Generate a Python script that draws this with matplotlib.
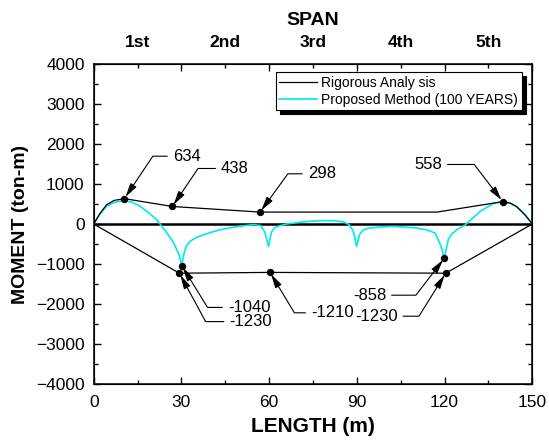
import matplotlib
matplotlib.use("Agg")
import matplotlib.pyplot as plt
import numpy as np

plt.rcParams['font.family'] = ['Liberation Sans', 'DejaVu Sans']

# ---------------- data ----------------
rig_upper_x = [0, 2, 4.4, 7, 10.5, 26.9, 56.9, 117.4, 139.9, 142.5, 144.7, 147.5, 150]
rig_upper_y = [0, 250, 480, 590, 634, 438, 298, 298, 558, 520, 430, 230, 0]

rig_lower_x = [0, 29.3, 60.3, 120.4, 150]
rig_lower_y = [0, -1230, -1210, -1230, 0]

prop_x = [0, 2, 4.4, 7, 10.1, 13, 15.8, 18.5, 21.5, 25, 27, 28.4, 29.3, 30.1,
          30.8, 31.6, 32.9, 35, 37.5, 40, 43.2, 48.9, 54.6, 57.1, 58.5, 59.8,
          60.8, 61.7, 62.6, 66, 71.7, 77.4, 82, 85.4, 87.4, 88.8, 89.9, 91,
          92.2, 93.9, 98, 102.5, 106, 110.5, 114, 116.7, 118.4, 119.3, 119.9,
          120.6, 121.3, 122.5, 124.1, 127, 132.1, 136.7, 140.1, 142.5, 144.7,
          147.5, 150]
prop_y = [0, 230, 445, 540, 580, 550, 445, 300, 112, -220, -430, -640, -800, -1040,
          -760, -560, -435, -340, -270, -210, -145, -65, -15, -40, -200, -560,
          -200, -110, -65, 0, 55, 85, 80, 55, -20, -180, -560, -250,
          -150, -105, -75, -60, -75, -100, -150, -225, -485, -680, -858,
          -620, -380, -250, -150, -25, 310, 515, 560, 520, 430,
          230, 0]

# labelled points
pt_x = [10.5, 26.9, 56.9, 139.9, 30.1, 29.3, 60.3, 119.9, 120.4]
pt_val = [634, 438, 298, 558, -1040, -1230, -1210, -858, -1230]

span_labels = ['1st', '2nd', '3rd', '4th', '5th']
span_centers = [15, 45, 75, 105, 135]
span_bounds = [0, 30, 60, 90, 120, 150]

# ---------------- figure ----------------
fig = plt.figure(figsize=(5.49, 4.42), dpi=100)
ax = fig.add_axes([93.7 / 549, 58 / 442, 438.6 / 549, 320 / 442])

cyan = '#00e8f0'
ax.axhline(0, color='black', lw=1.8, zorder=2)
l2, = ax.plot(prop_x, prop_y, color=cyan, lw=1.2, zorder=3,
              label='Proposed Method (100 YEARS)')
l1, = ax.plot(rig_upper_x, rig_upper_y, color='black', lw=0.9, zorder=4,
              label='Rigorous Analy sis')
ax.plot(rig_lower_x, rig_lower_y, color='black', lw=0.9, zorder=4)
ax.plot(pt_x, pt_val, 'o', color='black', ms=4.3, zorder=6, ls='none')

# annotation layout: (text x, text y, angle of diagonal leader in display)
ann = [
    (31.8, 1695, 56.2),
    (48.3, 1388, 55.9),
    (78.0, 1255, 54.0),
    (114.4, 1488, 127.5),
    (53.2, -2085, -58.3),
    (53.7, -2440, -61.5),
    (81.6, -2220, -58.9),
    (94.3, -1780, 52.4),
    (96.6, -2305, 58.1),
]
for (tx, ty, ang), px, pv in zip(ann, pt_x, pt_val):
    ax.annotate(str(pv), xy=(px, pv), xytext=(tx, ty), ha='center', va='center',
                fontsize=12, zorder=7,
                arrowprops=dict(arrowstyle='-|>,head_length=0.7,head_width=0.18',
                                color='black', lw=0.8, shrinkA=2, shrinkB=1.5,
                                connectionstyle=f'angle,angleA=0,angleB={ang},rad=0'))

ax.set_xlim(0, 150)
ax.set_ylim(-4000, 4000)
ax.set_xticks(span_bounds)
ax.set_xticks(span_centers, minor=True)
ax.set_yticks(np.arange(-4000, 4001, 1000))
ax.set_yticks(np.arange(-4000, 4001, 500), minor=True)
ax.tick_params(which='both', direction='in', right=True, top=False, labelsize=12.5)
ax.tick_params(which='major', length=5, width=1)
ax.tick_params(which='minor', length=3, width=1)
ax.tick_params(axis='x', which='major', pad=8)
ax.tick_params(axis='y', which='major', pad=6.5)
for s in ax.spines.values():
    s.set_linewidth(1.1)

ax.set_xlabel('LENGTH (m)', fontsize=15, fontweight='bold', labelpad=5)
ax.set_ylabel('MOMENT (ton-m)', fontsize=14, fontweight='bold', labelpad=5)

ax2 = ax.twiny()
ax2.set_xlim(0, 150)
ax2.set_xticks(span_bounds, labels=[''] * len(span_bounds))
ax2.set_xticks(span_centers, labels=span_labels, minor=True)
ax2.tick_params(which='both', direction='in')
ax2.tick_params(which='major', length=5, width=1)
ax2.tick_params(which='minor', length=3, width=1, labelsize=12.5, pad=10)
for lbl in ax2.get_xticklabels(minor=True):
    lbl.set_fontweight('bold')
ax2.set_xlabel('SPAN', fontsize=14, fontweight='bold', labelpad=7)

leg = ax.legend(handles=[l1, l2], loc='upper right',
                bbox_to_anchor=((521.7 - 93.7) / 438.6, (384 - 72.3) / 320),
                borderaxespad=0, fontsize=10, fancybox=False, framealpha=1,
                edgecolor='black', handlelength=2.75, handletextpad=0.3,
                borderpad=0.25, labelspacing=0.2,
                shadow={'color': 'black', 'alpha': 1, 'ox': 3, 'oy': -3})
leg.get_frame().set_linewidth(0.8)
leg.set_zorder(10)

fig.savefig('out.png', dpi=100)
